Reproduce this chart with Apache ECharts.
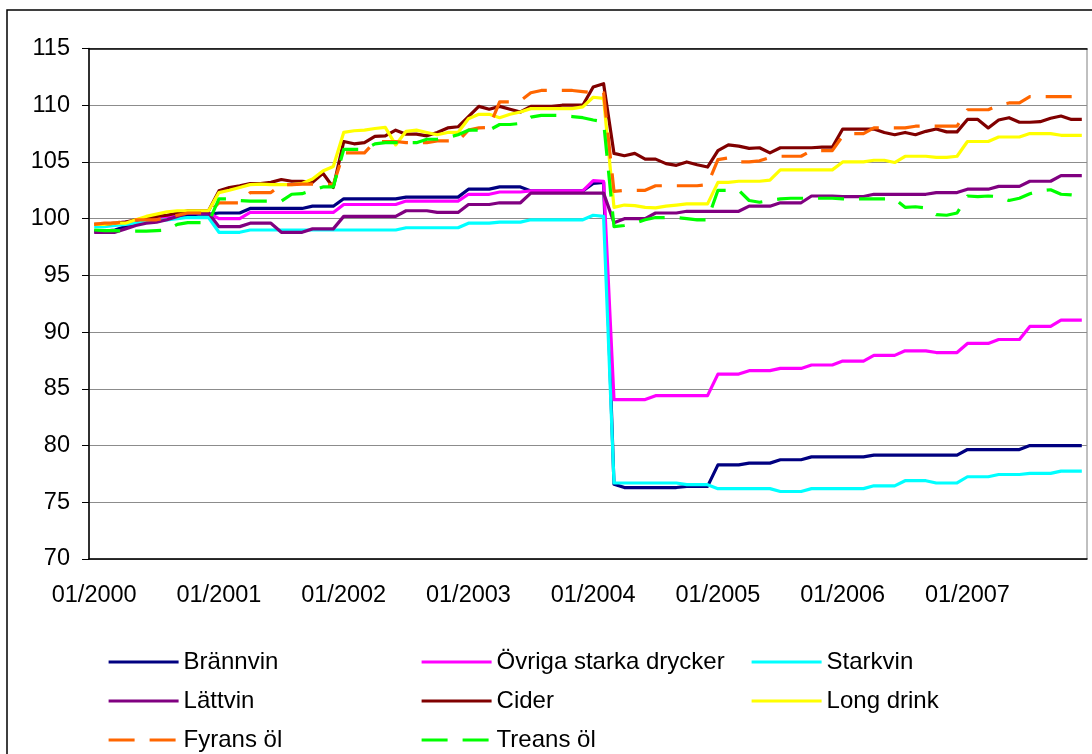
<!DOCTYPE html>
<html>
<head>
<meta charset="utf-8">
<title>Prisindex</title>
<script src="https://cdn.jsdelivr.net/npm/echarts@6/dist/echarts.min.js"></script>
<style>
	html, body { margin: 0; padding: 0; background: #fff; }
	#chart { width: 1092px; height: 754px; }
</style>
</head>
<body>
<div id="chart"></div>
<script>
// år och månader för x-axeln
const years = ['2000', '2001', '2002', '2003', '2004', '2005', '2006', '2007'];
const months = ['01', '02', '03', '04', '05', '06', '07', '08', '09', '10', '11', '12'];
const yTicks = [70, 115, 5];

// indexserier, en rad per år
const brannvin = [
	98.9, 98.9, 99.0, 99.3, 99.6, 100.0, 100.2, 100.2, 100.2, 100.3, 100.4, 100.4,
	100.5, 100.5, 100.5, 100.9, 100.9, 100.9, 100.9, 100.9, 100.9, 101.1, 101.1, 101.1,
	101.75, 101.75, 101.75, 101.75, 101.75, 101.75, 101.9, 101.9, 101.9, 101.9, 101.9, 101.9,
	102.6, 102.6, 102.6, 102.8, 102.8, 102.8, 102.45, 102.45, 102.45, 102.45, 102.45, 102.45,
	103.1, 103.2, 76.6, 76.3, 76.3, 76.3, 76.3, 76.3, 76.3, 76.4, 76.4, 76.4,
	78.3, 78.3, 78.3, 78.45, 78.45, 78.45, 78.75, 78.75, 78.75, 79.0, 79.0, 79.0,
	79.0, 79.0, 79.0, 79.15, 79.15, 79.15, 79.15, 79.15, 79.15, 79.15, 79.15, 79.15,
	79.65, 79.65, 79.65, 79.65, 79.65, 79.65, 80.0, 80.0, 80.0, 80.0, 80.0, 80.0
];
const ovriga = [
	99.5, 99.5, 99.6, 99.7, 99.8, 100.0, 100.1, 100.2, 100.3, 100.5, 100.5, 100.5,
	100.0, 100.0, 100.0, 100.55, 100.55, 100.55, 100.55, 100.55, 100.55, 100.55, 100.55, 100.55,
	101.25, 101.25, 101.25, 101.25, 101.25, 101.25, 101.55, 101.55, 101.55, 101.55, 101.55, 101.55,
	102.15, 102.15, 102.15, 102.35, 102.35, 102.35, 102.45, 102.45, 102.45, 102.45, 102.45, 102.45,
	103.35, 103.3, 84.05, 84.05, 84.05, 84.05, 84.4, 84.4, 84.4, 84.4, 84.4, 84.4,
	86.3, 86.3, 86.3, 86.6, 86.6, 86.6, 86.8, 86.8, 86.8, 87.1, 87.1, 87.1,
	87.45, 87.45, 87.45, 87.95, 87.95, 87.95, 88.35, 88.35, 88.35, 88.2, 88.2, 88.2,
	89.0, 89.0, 89.0, 89.35, 89.35, 89.35, 90.5, 90.5, 90.5, 91.05, 91.05, 91.05
];
const starkvin = [
	99.3, 99.3, 99.4, 99.5, 99.6, 99.7, 99.8, 99.9, 100.0, 100.1, 100.1, 100.1,
	98.8, 98.8, 98.8, 99.0, 99.0, 99.0, 99.0, 99.0, 99.0, 99.0, 99.0, 99.0,
	99.0, 99.0, 99.0, 99.0, 99.0, 99.0, 99.2, 99.2, 99.2, 99.2, 99.2, 99.2,
	99.6, 99.6, 99.6, 99.7, 99.7, 99.7, 99.9, 99.9, 99.9, 99.9, 99.9, 99.9,
	100.3, 100.2, 76.7, 76.7, 76.7, 76.7, 76.7, 76.7, 76.7, 76.55, 76.55, 76.55,
	76.2, 76.2, 76.2, 76.2, 76.2, 76.2, 75.95, 75.95, 75.95, 76.2, 76.2, 76.2,
	76.2, 76.2, 76.2, 76.45, 76.45, 76.45, 76.9, 76.9, 76.9, 76.7, 76.7, 76.7,
	77.25, 77.25, 77.25, 77.45, 77.45, 77.45, 77.55, 77.55, 77.55, 77.75, 77.75, 77.75
];
const lattvin = [
	98.8, 98.8, 98.8, 99.1, 99.4, 99.6, 99.7, 99.9, 100.2, 100.5, 100.5, 100.5,
	99.3, 99.3, 99.3, 99.6, 99.6, 99.6, 98.8, 98.8, 98.8, 99.1, 99.1, 99.1,
	100.2, 100.2, 100.2, 100.2, 100.2, 100.2, 100.7, 100.7, 100.7, 100.55, 100.55, 100.55,
	101.25, 101.25, 101.25, 101.4, 101.4, 101.4, 102.25, 102.25, 102.25, 102.25, 102.25, 102.25,
	102.25, 102.25, 99.65, 100.0, 100.0, 100.0, 100.5, 100.5, 100.5, 100.65, 100.65, 100.65,
	100.65, 100.65, 100.65, 101.1, 101.1, 101.1, 101.4, 101.4, 101.4, 102.0, 102.0, 102.0,
	101.95, 101.95, 101.95, 102.15, 102.15, 102.15, 102.15, 102.15, 102.15, 102.3, 102.3, 102.3,
	102.6, 102.6, 102.6, 102.85, 102.85, 102.85, 103.3, 103.3, 103.3, 103.8, 103.8, 103.8
];
const cider = [
	99.5, 99.5, 99.6, 99.7, 99.9, 100.0, 100.2, 100.3, 100.5, 100.7, 100.7, 100.7,
	102.45, 102.75, 102.9, 103.1, 103.1, 103.2, 103.45, 103.3, 103.3, 103.2, 104.0, 102.75,
	106.8, 106.6, 106.7, 107.25, 107.3, 107.8, 107.45, 107.45, 107.3, 107.6, 108.0, 108.1,
	109.0, 109.9, 109.65, 109.9, 109.65, 109.4, 109.9, 109.9, 109.9, 110.0, 110.0, 110.0,
	111.6, 111.9, 105.75, 105.55, 105.75, 105.25, 105.25, 104.85, 104.7, 105.0, 104.75, 104.55,
	106.0, 106.5, 106.4, 106.2, 106.25, 105.8, 106.25, 106.25, 106.25, 106.25, 106.3, 106.3,
	107.9, 107.9, 107.9, 107.9, 107.6, 107.4, 107.6, 107.4, 107.7, 107.9, 107.65, 107.65,
	108.75, 108.75, 108.0, 108.7, 108.9, 108.5, 108.5, 108.55, 108.85, 109.05, 108.75, 108.75
];
const longDrink = [
	99.5, 99.5, 99.6, 99.6, 99.9, 100.2, 100.4, 100.6, 100.7, 100.7, 100.7, 100.7,
	102.3, 102.5, 102.75, 103.0, 103.05, 103.0, 103.0, 103.0, 103.1, 103.5, 104.2, 104.6,
	107.6, 107.75, 107.8, 107.95, 108.05, 106.5, 107.7, 107.8, 107.6, 107.4, 107.6, 107.6,
	108.8, 109.2, 109.2, 108.9, 109.2, 109.4, 109.7, 109.7, 109.7, 109.7, 109.7, 109.85,
	110.7, 110.6, 101.0, 101.2, 101.15, 101.0, 100.95, 101.1, 101.2, 101.3, 101.3, 101.3,
	103.2, 103.2, 103.3, 103.3, 103.3, 103.4, 104.3, 104.3, 104.3, 104.3, 104.3, 104.3,
	105.0, 105.0, 105.0, 105.15, 105.15, 104.95, 105.5, 105.5, 105.5, 105.4, 105.4, 105.5,
	106.8, 106.8, 106.8, 107.2, 107.2, 107.2, 107.5, 107.5, 107.5, 107.35, 107.35, 107.35
];
const fyransOl = [
	99.5, 99.6, 99.6, 99.8, 99.9, 99.9, 99.9, 100.1, 100.3, 100.5, 100.5, 100.5,
	101.4, 101.4, 101.4, 102.3, 102.3, 102.3, 103.0, 103.0, 103.05, 103.05, 103.05, 103.0,
	105.8, 105.8, 105.8, 106.8, 106.8, 106.8, 106.7, 106.7, 106.7, 106.85, 106.85, 106.85,
	107.8, 108.0, 108.05, 110.3, 110.3, 110.4, 111.1, 111.3, 111.3, 111.3, 111.3, 111.2,
	111.1, 111.1, 102.4, 102.5, 102.5, 102.5, 102.9, 102.9, 102.9, 102.9, 102.9, 103.0,
	105.2, 105.35, 105.0, 105.0, 105.1, 105.4, 105.5, 105.5, 105.5, 106.0, 106.0, 106.0,
	107.3, 107.5, 107.5, 108.0, 108.0, 108.0, 108.0, 108.15, 108.15, 108.15, 108.15, 108.15,
	109.6, 109.6, 109.6, 110.0, 110.2, 110.2, 110.75, 110.75, 110.75, 110.75, 110.75, 110.75
];
const treansOl = [
	99.0, 98.95, 98.95, 98.9, 98.9, 98.9, 98.95, 99.0, 99.5, 99.65, 99.65, 99.65,
	101.75, 101.75, 101.6, 101.55, 101.55, 101.55, 101.55, 102.15, 102.2, 102.5, 102.8, 102.8,
	106.1, 106.1, 106.1, 106.6, 106.7, 106.7, 106.7, 106.7, 107.0, 107.0, 107.15, 107.4,
	107.8, 107.8, 107.8, 108.3, 108.3, 108.4, 108.95, 109.1, 109.1, 109.1, 109.0, 108.9,
	108.7, 108.55, 99.3, 99.4, 99.6, 99.9, 100.1, 100.1, 100.1, 100.0, 99.9, 99.9,
	102.5, 102.5, 102.5, 101.6, 101.45, 101.6, 101.75, 101.8, 101.8, 101.8, 101.8, 101.8,
	101.75, 101.75, 101.75, 101.75, 101.75, 101.75, 101.0, 101.05, 100.95, 100.35, 100.3, 100.5,
	102.0, 101.95, 102.0, 101.95, 101.6, 101.8, 102.2, 102.45, 102.55, 102.15, 102.1, 102.0
];

// kategorier: 01/2000 ... 12/2007
const categories = [];
years.forEach(y => months.forEach(m => categories.push(m + '/' + y)));

const font = 'Liberation Sans, Arial, sans-serif';

function makeLine(name, data, color, dashed) {
	return {
		name: name,
		type: 'line',
		data: data,
		showSymbol: false,
		symbol: 'none',
		animation: false,
		lineStyle: {
			color: color,
			width: 3.2,
			type: dashed ? [26, 15] : 'solid',
			join: 'round'
		},
		itemStyle: { color: color }
	};
}

// legend i tre kolumner
function makeLegend(names, left) {
	return {
		data: names,
		orient: 'vertical',
		left: left,
		top: 650,
		itemWidth: 70,
		itemHeight: 14,
		itemGap: 15,
		padding: 0,
		itemStyle: { opacity: 0 },
		lineStyle: { width: 3.2 },
		textStyle: { fontSize: 24, fontFamily: font, color: '#000' }
	};
}

const chart = echarts.init(document.getElementById('chart'));
chart.setOption({
	backgroundColor: '#fff',
	animation: false,
	textStyle: { fontFamily: font },
	graphic: [{
		type: 'rect',
		shape: { x: 7, y: 10, width: 1200, height: 900 },
		style: { fill: 'none', stroke: '#000', lineWidth: 1.5 },
		silent: true
	}],
	grid: {
		left: 89,
		right: 5,
		top: 48.5,
		bottom: 195,
		show: true,
		borderColor: '#808080',
		borderWidth: 1
	},
	legend: [
		makeLegend(['Brännvin', 'Lättvin', 'Fyrans öl'], 107),
		makeLegend(['Övriga starka drycker', 'Cider', 'Treans öl'], 420),
		makeLegend(['Starkvin', 'Long drink'], 750)
	],
	xAxis: [{
		type: 'category',
		data: categories,
		boundaryGap: true,
		axisLine: { lineStyle: { color: '#000', width: 1.5 } },
		axisTick: { interval: 11, length: 6, lineStyle: { color: '#000' } },
		axisLabel: { interval: 11, margin: 25, fontSize: 23.5, color: '#000', fontFamily: font },
		splitLine: { show: false }
	}, {
		type: 'category',
		data: categories,
		position: 'top',
		axisLine: { lineStyle: { color: '#000', width: 1.5 } },
		axisTick: { show: false },
		axisLabel: { show: false }
	}],
	yAxis: {
		type: 'value',
		min: yTicks[0],
		max: yTicks[1],
		interval: yTicks[2],
		axisLine: { show: true, lineStyle: { color: '#000', width: 1.5 } },
		axisTick: { show: true, length: 7, lineStyle: { color: '#000' } },
		axisLabel: { margin: 19, fontSize: 23.5, color: '#000', fontFamily: font },
		splitLine: { lineStyle: { color: '#8c8c8c', width: 1 } }
	},
	series: [
		makeLine('Brännvin', brannvin, '#000080', false),
		makeLine('Övriga starka drycker', ovriga, '#ff00ff', false),
		makeLine('Starkvin', starkvin, '#00ffff', false),
		makeLine('Lättvin', lattvin, '#800080', false),
		makeLine('Cider', cider, '#800000', false),
		makeLine('Long drink', longDrink, '#ffff00', false),
		makeLine('Fyrans öl', fyransOl, '#ff6600', true),
		makeLine('Treans öl', treansOl, '#00ff00', true)
	]
});
</script>
</body>
</html>
